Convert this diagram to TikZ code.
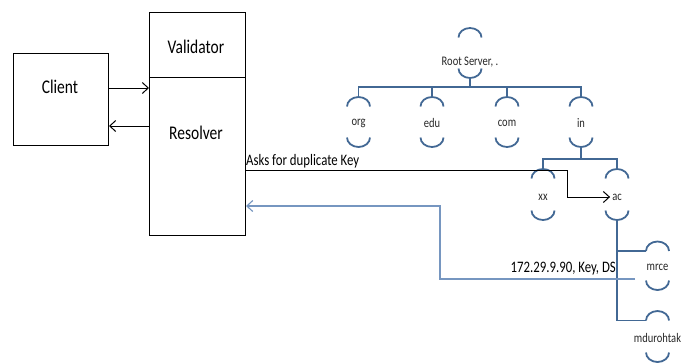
\documentclass[tikz,border=0pt]{standalone}
\usepackage{graphicx}
\usepackage{fontspec}
\setmainfont{Carlito}
\usetikzlibrary{arrows.meta}
\definecolor{treeblue}{RGB}{66,104,148}
\definecolor{retblue}{RGB}{118,150,192}
\newcommand\tall[1]{\scalebox{1}[1.25]{#1}}
\newcommand\dnsn[6]{%
  \coordinate (#1-t) at (#2,#3);
  \coordinate (#1-l) at ({#2-11.5},{#3+9.5});
  \coordinate (#1-b) at (#2,#5);
  \node[tl] (#1) at (#2,#4) {\tall{#6}};
  \draw[arcst] (#1-t) ++(-11.5pt,-9.5pt) arc[start angle=180,end angle=0,x radius=11.5pt,y radius=9.5pt];
  \draw[arcst] (#1-b) ++(-11.5pt,9.5pt) arc[start angle=180,end angle=360,x radius=11.5pt,y radius=9.5pt];
}
\tikzset{
  box/.style={draw, line width=1pt, inner sep=0pt},
  big/.style={font=\fontsize{15.5}{18}\selectfont},
  mid/.style={font=\fontsize{12.8}{15}\selectfont},
  tl/.style={font=\fontsize{10.5}{12}\selectfont, text=black!85, inner sep=2pt},
  tree/.style={draw=treeblue, line width=1.7pt},
  arcst/.style={draw=treeblue, line width=1.8pt},
  barb/.style={-{Straight Barb[length=6pt,width=11pt]}},
}
\begin{document}
\begin{tikzpicture}[x=1pt,y=-1pt]
\useasboundingbox (0,0) rectangle (693,362);
% boxes
\node[box, minimum width=95pt, minimum height=92pt, anchor=north west] (client) at (13,53) {};
\node[big] (clientlbl) at (60,87) {\tall{Client}};
\node[box, minimum width=96pt, minimum height=65pt, anchor=north west] (validator) at (149,12) {};
\node[big] (validatorlbl) at (196,47) {\tall{Validator}};
\node[box, minimum width=96pt, minimum height=158pt, anchor=north west] (resolver) at (149,77) {};
\node[big] (resolverlbl) at (196,133) {\tall{Resolver}};
% client <-> resolver
\coordinate (lvA) at (0,88);
\coordinate (lvB) at (0,126);
\draw[line width=1pt, barb] (client.east |- lvA) -- (resolver.west |- lvA);
\draw[line width=1pt, barb] (resolver.west |- lvB) -- (client.east |- lvB);
% DNS tree
\dnsn{root}{470}{28}{62}{78}{Root Server, .}
\dnsn{org}{358.5}{97}{123}{147}{org}
\dnsn{edu}{432}{97}{123}{147}{edu}
\dnsn{com}{507}{97}{123}{147}{com}
\dnsn{in}{581}{97}{123}{147}{in}
\dnsn{xx}{543}{169}{197}{220}{xx}
\dnsn{ac}{617}{169}{197}{220}{ac}
\dnsn{mrce}{657.5}{241.5}{267}{290}{mrce}
\dnsn{mdu}{657.5}{311}{338}{362}{mdurohtak}
\coordinate (rootbar) at (470,87);
\coordinate (inbar) at (581,159);
\draw[tree] (root-b) -- (rootbar);
\draw[tree] (org-t) |- (rootbar) -| (in-t);
\draw[tree] (edu-t) -- (edu-t |- rootbar);
\draw[tree] (com-t) -- (com-t |- rootbar);
\draw[tree] (in-b) -- (inbar);
\draw[tree] (xx-t) |- (inbar) -| (ac-t);
\draw[tree] (ac-b) |- (mrce-l);
\draw[tree] (ac-b) |- (mdu-l);
% query line
\coordinate (askturn) at (567,170);
\draw[line width=1pt, barb] (resolver.east |- askturn) -- (askturn) |- (ac.west);
\node[mid, anchor=base west, inner sep=0pt] (asks) at (246,165) {\tall{Asks for duplicate Key}};
% reply line
\coordinate (retstart) at (635,279);
\coordinate (retturn) at (440,279);
\coordinate (retlevel) at (0,206);
\draw[retblue, line width=1.1pt, barb] (retstart) -- (retturn) |- (resolver.east |- retlevel);
\node[mid, anchor=base east, inner sep=0pt] (reply) at (616,272) {\tall{172.29.9.90, Key, DS}};
\end{tikzpicture}
\end{document}
